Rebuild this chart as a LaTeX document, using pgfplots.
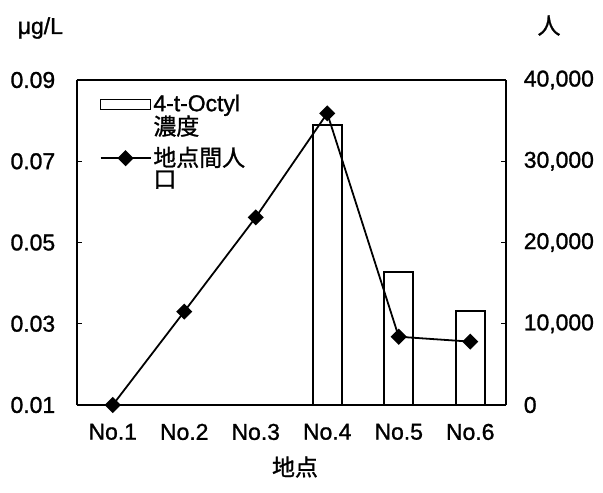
\documentclass[border=0pt]{standalone}
\usepackage{pgfplots}
\pgfplotsset{compat=1.18}
\usepackage{fontspec}
\setmainfont{Liberation Sans}[FakeBold=1.2]
\newfontfamily\jp{Noto Sans CJK JP}[FakeBold=1.2]

% concentration of 4-t-Octylphenol (ug/L) at sites No.4-No.6
\pgfplotstableread{
x conc
3 0.079
4 0.0428
5 0.0332
}\conctable
% population between sites
\pgfplotstableread{
x pop
0 0
1 11500
2 23100
3 35900
4 8400
5 7800
}\poptable

\begin{document}
\fontsize{23}{27}\selectfont
\begin{tikzpicture}
\useasboundingbox (-77bp,-88bp) rectangle (526bp,405bp);
\pgfplotsset{
  common/.style={
    scale only axis, width=429bp, height=325bp,
    at={(0,0)}, anchor=south west,
    xmin=-0.5, xmax=5.5,
    xtick={0,...,5},
    major tick length=5bp,
    axis line style={line width=2pt},
    every tick/.style={black, line width=1.2pt},
    tick align=inside,
    scaled y ticks=false,
    /pgf/number format/assume math mode=true,
    tick label style={font=\fontsize{23}{27}\selectfont},
  },
}
\begin{axis}[common,
  axis y line*=left,
  axis x line*=box,
  ymin=0.01, ymax=0.09,
  ytick={0.01,0.03,0.05,0.07,0.09},
  yticklabel style={/pgf/number format/fixed, /pgf/number format/fixed zerofill,
                    /pgf/number format/precision=2, xshift=-14bp},
  xticklabels={No.1,No.2,No.3,No.4,No.5,No.6},
  xticklabel style={yshift=-11bp},
  x tick style={draw=none},
  legend style={draw=none, fill=white, at={(0.05,0.965)}, anchor=north west,
                font=\fontsize{23}{27}\selectfont, row sep=-3bp,
                inner sep=1bp},
  legend cell align=left,
]
\addplot[ybar, bar width=29bp, draw=black, line width=2pt, fill=white,
  legend image code/.code={\draw[black, line width=1.8pt, fill=white] (0bp,-5bp) rectangle (50bp,5bp);}]
  table[x=x, y=conc] {\conctable};
\addlegendentry{4-t-Octyl}
\addlegendimage{empty legend}
\addlegendentry{\jp 濃度}
% the second entry sits a little lower, so its image reserves extra room above
\addlegendimage{black, line width=1.8pt,
  legend image code/.code={\path (0bp,20bp);
     \draw[black, line width=1.8pt] (0bp,0bp) -- (50bp,0bp);
     \fill[black, rotate around={45:(25bp,0bp)}] (20.2bp,-4.8bp) rectangle (29.8bp,4.8bp);}}
\addlegendentry{\jp 地点間人}
\addlegendimage{empty legend}
\addlegendentry{\jp 口}
\end{axis}
\begin{axis}[common,
  axis y line*=right,
  axis x line=none,
  ymin=0, ymax=40000,
  ytick={0,10000,20000,30000,40000},
  yticklabel style={/pgf/number format/fixed, /pgf/number format/1000 sep={,},
                    xshift=10bp},
]
\addplot[black, line width=1.8pt, mark=square*, mark size=4.8bp,
  mark options={rotate=45}] table[x=x, y=pop] {\poptable};
\end{axis}
\node[anchor=base west] at (-67bp,371bp) {μg/L};
\node[anchor=base] at (472bp,371bp) {\jp 人};
\node at (218bp,-62bp) {\jp 地点};
\end{tikzpicture}
\end{document}
